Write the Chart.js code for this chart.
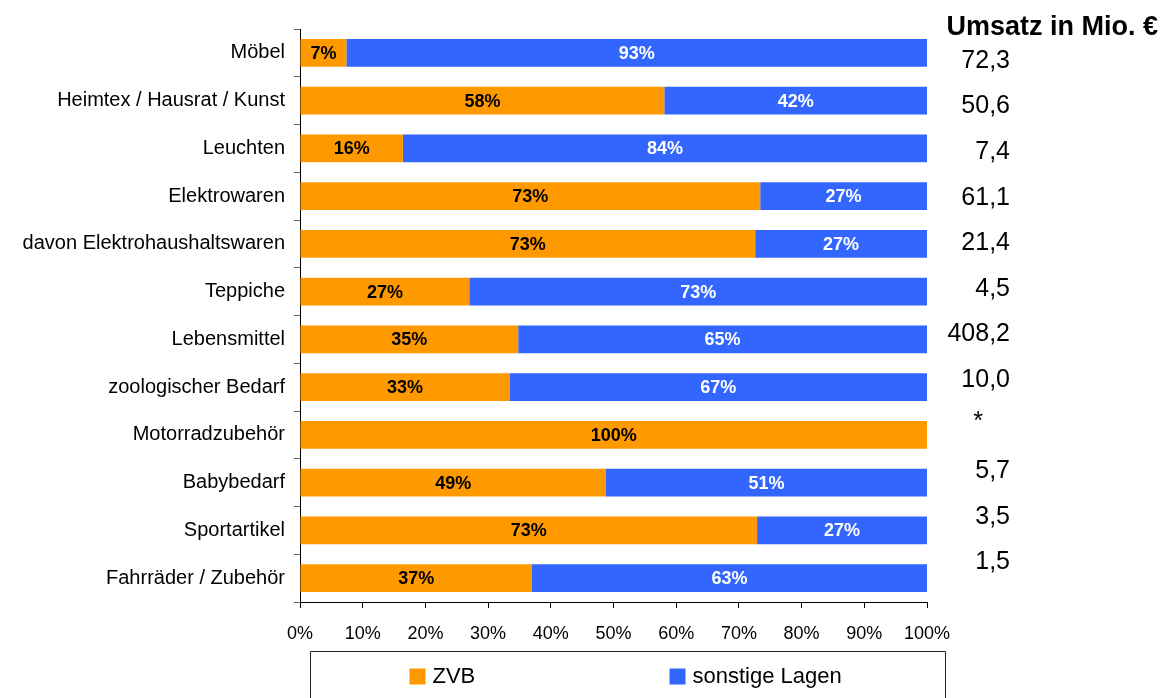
<!DOCTYPE html>
<html>
<head>
<meta charset="utf-8">
<script src="https://cdn.jsdelivr.net/npm/chart.js@4/dist/chart.umd.min.js"></script>
<style>
  html, body { margin: 0; padding: 0; background: #fff; }
  #wrap { width: 1161px; height: 698px; position: relative; }
</style>
</head>
<body>
<div id="wrap"><canvas id="c"></canvas></div>
<script>
// ---- data ----
const categories = ['Möbel', 'Heimtex / Hausrat / Kunst', 'Leuchten', 'Elektrowaren',
  'davon Elektrohaushaltswaren', 'Teppiche', 'Lebensmittel', 'zoologischer Bedarf',
  'Motorradzubehör', 'Babybedarf', 'Sportartikel', 'Fahrräder / Zubehör'];
const zvb      = [7.4, 58.1, 16.4, 73.4, 72.6, 27.0, 34.8, 33.4, 100, 48.8, 72.9, 37.0];
const sonstige = [92.6, 41.9, 83.6, 26.6, 27.4, 73.0, 65.2, 66.6, 0, 51.2, 27.1, 63.0];
const umsatz   = ['72,3', '50,6', '7,4', '61,1', '21,4', '4,5', '408,2', '10,0', '*', '5,7', '3,5', '1,5'];
const umsatzTitle = 'Umsatz in Mio. €';
const seriesNames = ['ZVB', 'sonstige Lagen'];
const xTicks = [0, 10, 20, 30, 40, 50, 60, 70, 80, 90, 100];

const FONT = '"Liberation Sans", Arial, sans-serif';
const ORANGE = '#FF9900';
const BLUE = '#3366FF';

const barLabels = {
  id: 'barLabels',
  afterDatasetsDraw(chart) {
    const ctx = chart.ctx;
    ctx.save();
    ctx.font = 'bold 18px ' + FONT;
    ctx.textAlign = 'center';
    ctx.textBaseline = 'middle';
    chart.data.datasets.forEach((ds, di) => {
      const meta = chart.getDatasetMeta(di);
      meta.data.forEach((bar, i) => {
        const v = ds.data[i];
        if (!v) return;
        const p = bar.getProps(['x', 'y', 'base'], true);
        ctx.fillStyle = di === 0 ? '#000' : '#fff';
        ctx.fillText(Math.round(v) + '%', (p.x + p.base) / 2, p.y + 1);
      });
    });
    ctx.restore();
  }
};

const sideTable = {
  id: 'sideTable',
  afterDraw(chart) {
    const ctx = chart.ctx;
    const area = chart.chartArea;
    const yScale = chart.scales.y;
    const band = yScale.getPixelForValue(1) - yScale.getPixelForValue(0);
    ctx.save();
    ctx.fillStyle = '#000';
    ctx.textBaseline = 'middle';
    ctx.textAlign = 'right';
    ctx.font = 'bold 27px ' + FONT;
    ctx.fillText(umsatzTitle, chart.width - 3, area.top - 1);
    ctx.font = '25px ' + FONT;
    const xr = area.right + 83;
    const y0 = yScale.getPixelForValue(0) + band * 0.17;
    const step = band * 0.955;
    umsatz.forEach((t, i) => {
      const y = y0 + i * step;
      if (t === '*') {
        ctx.textAlign = 'center';
        ctx.fillText(t, xr - 32, y - 4);
        ctx.textAlign = 'right';
      } else {
        ctx.fillText(t, xr, y);
      }
    });
    ctx.restore();
  }
};

const boxLegend = {
  id: 'boxLegend',
  afterDraw(chart) {
    const ctx = chart.ctx;
    const area = chart.chartArea;
    const left = area.left + 10.5, right = area.right + 18.5, top = area.bottom + 49.5;
    ctx.save();
    ctx.strokeStyle = '#222';
    ctx.lineWidth = 1;
    ctx.beginPath();
    ctx.moveTo(left, chart.height + 2);
    ctx.lineTo(left, top);
    ctx.lineTo(right, top);
    ctx.lineTo(right, chart.height + 2);
    ctx.stroke();
    const yc = top + 25;
    const offsets = [99, 359];
    ctx.font = '22px ' + FONT;
    ctx.textBaseline = 'middle';
    ctx.textAlign = 'left';
    chart.data.datasets.forEach((ds, i) => {
      const x = left + offsets[i];
      ctx.fillStyle = ds.backgroundColor;
      ctx.fillRect(x, yc - 8, 16, 16);
      ctx.fillStyle = '#000';
      ctx.fillText(ds.label, x + 23, yc);
    });
    ctx.restore();
  }
};

new Chart(document.getElementById('c'), {
  type: 'bar',
  data: {
    labels: categories,
    datasets: [
      { label: seriesNames[0], data: zvb, backgroundColor: ORANGE, borderWidth: 0 },
      { label: seriesNames[1], data: sonstige, backgroundColor: BLUE, borderWidth: 0 }
    ]
  },
  options: {
    indexAxis: 'y',
    responsive: true,
    maintainAspectRatio: false,
    animation: false,
    layout: { padding: { top: 29, right: 234, bottom: 0, left: 0 } },
    datasets: { bar: { barPercentage: 0.58, categoryPercentage: 1 } },
    plugins: { legend: { display: false }, tooltip: { enabled: false } },
    scales: {
      x: {
        stacked: true, min: 0, max: 100,
        afterBuildTicks(scale) { scale.ticks = xTicks.map(v => ({ value: v })); },
        afterFit(scale) { scale.height = 96; },
        ticks: { callback: v => v + '%', color: '#000', font: { family: FONT, size: 18 }, padding: 15, maxRotation: 0 },
        grid: { drawOnChartArea: false, tickLength: 6, color: '#000' },
        border: { color: '#000', width: 1 }
      },
      y: {
        stacked: true,
        afterFit(scale) { scale.width = 300; },
        ticks: { color: '#000', font: { family: FONT, size: 20 }, padding: 9 },
        grid: { drawOnChartArea: false, offset: true, tickLength: 6, color: '#666' },
        border: { color: '#000', width: 1 }
      }
    }
  },
  plugins: [barLabels, sideTable, boxLegend]
});
</script>
</body>
</html>
